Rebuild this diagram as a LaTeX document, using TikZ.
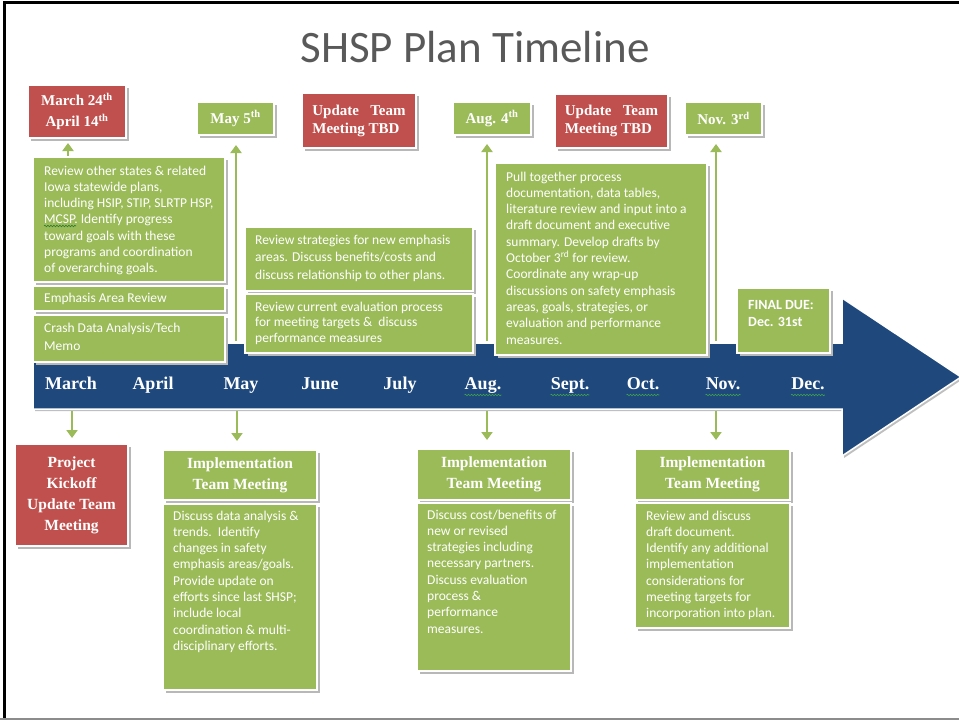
\documentclass[tikz,border=0pt]{standalone}
\usepackage{fontspec}
\setmainfont{Liberation Serif}
\newfontfamily\bodyfont{Carlito}
\usetikzlibrary{arrows.meta,shadows,calc,decorations.pathmorphing}
\definecolor{rd}{HTML}{C0504D}
\definecolor{gr}{HTML}{9BBB59}
\definecolor{bl}{HTML}{1F497D}
\definecolor{tg}{HTML}{595959}
\definecolor{sq}{HTML}{3FA34D}
\definecolor{sqd}{HTML}{2E7D32}
\begin{document}
\begin{tikzpicture}[x=1pt,y=-1pt,
 box/.style={draw=white,line width=2.4pt,anchor=north west,inner sep=0pt,outer sep=0pt,
   drop shadow={shadow xshift=2.5pt,shadow yshift=-2.5pt,fill=black!28,opacity=1}},
 redbox/.style={box,fill=rd},
 grnbox/.style={box,fill=gr},
 hd/.style={text=white,font=\fontsize{15.5}{21}\selectfont\bfseries,align=center},
 lbl/.style={text=white,font=\fontsize{15}{19}\selectfont\bfseries,align=center},
 body/.style={text=white,font=\bodyfont\fontsize{13.5}{16.3}\selectfont,align=left,anchor=north west,inner sep=0pt},
 month/.style={text=white,font=\fontsize{18}{20}\selectfont\bfseries,inner sep=0pt,anchor=base},
 garrow/.style={draw=gr,line width=2.6pt,-{Triangle[width=11pt,length=8pt]}},
 squig/.style={line width=0.6pt,decorate,decoration={snake,segment length=3pt,amplitude=0.8pt}},
]
\useasboundingbox (0,0) rectangle (959,720);
% frame
\draw[black,line width=3pt] (4.5,720) -- (4.5,2.5) -- (959,2.5);
\draw[black!45,line width=2pt] (0,718.5) -- (959,718.5);
% title
\node[text=tg,font=\bodyfont\fontsize{45}{50}\selectfont] (title) at (475,47) {SHSP Plan Timeline};
% timeline arrow
\path[fill=bl,draw=white,line width=1.5pt,drop shadow={shadow xshift=2pt,shadow yshift=-2pt,fill=black!25,opacity=1}]
  (33,343) -- (842,343) -- (842,298) -- (961,377) -- (842,456) -- (842,409) -- (33,409) -- cycle;
% months
\node[month] (mmar) at (71,389) {March};
\node[month] (mapr) at (153,389) {April};
\node[month] (mmay) at (241,389) {May};
\node[month] (mjun) at (320,389) {June};
\node[month] (mjul) at (400,389) {July};
\node[month] (maug) at (483,389) {Aug.};
\node[month] (msep) at (570,389) {Sept.};
\node[month] (moct) at (643,389) {Oct.};
\node[month] (mnov) at (723,389) {Nov.};
\node[month] (mdec) at (808,389) {Dec.};
\foreach \m in {maug,msep,moct,mnov,mdec}
  \draw[squig,sq] ($(\m.base west)+(0,6)$) -- ($(\m.base east)+(0,6)$);
% top labels
\node[redbox,minimum width=98pt,minimum height=53pt,lbl,font=\fontsize{15}{21}\selectfont\bfseries] (m24) at (28,85) {March 24\textsuperscript{th}\\April 14\textsuperscript{th}};
\node[grnbox,minimum width=77pt,minimum height=33pt,lbl] (may5) at (197,102) {May 5\textsuperscript{th}};
\node[redbox,minimum width=114pt,minimum height=55pt,lbl,align=left,font=\fontsize{15}{18}\selectfont\bfseries] (up1) at (302,93) {Update\ \ \ Team\\Meeting TBD};
\node[grnbox,minimum width=78pt,minimum height=33pt,lbl] (aug4) at (453,102) {Aug. 4\textsuperscript{th}};
\node[redbox,minimum width=113pt,minimum height=54pt,lbl,align=left,font=\fontsize{15}{18}\selectfont\bfseries] (up2) at (555,94) {Update\ \ \ Team\\Meeting TBD};
\node[grnbox,minimum width=77pt,minimum height=33pt,lbl] (nov3) at (685,102) {Nov. 3\textsuperscript{rd}};
% upward connectors
\coordinate (fmar) at (68,156);
\coordinate (fmay) at (236,341);
\coordinate (faug) at (487,341);
\coordinate (fnov) at (716,341);
\draw[garrow,shorten >=5pt] (fmar) -- (fmar |- m24.south);
\draw[garrow,shorten >=10pt] (fmay) -- (fmay |- may5.south);
\draw[garrow,shorten >=9pt] (faug) -- (faug |- aug4.south);
\draw[garrow,shorten >=9pt] (fnov) -- (fnov |- nov3.south);
% left column boxes
\node[grnbox,minimum width=192pt,minimum height=125pt] (lb1) at (33,157) {};
\node[body] (lb1t) at (44,165.5) {Review other states \& related\\Iowa statewide plans,\\including HSIP, STIP, SLRTP HSP,\\MCSP. Identify progress\\toward goals with these\\programs and coordination\\of overarching goals.};
\coordinate (mcspa) at (44,226);
\coordinate (mcspb) at (76,226);
\draw[squig,sqd] (mcspa) -- (mcspb);
\node[grnbox,minimum width=192pt,minimum height=25pt] (lb2) at (33,286) {};
\node[body] (lb2t) at (44,292.5) {Emphasis Area Review};
\node[grnbox,minimum width=192pt,minimum height=47pt] (lb3) at (33,315) {};
\node[body,font=\bodyfont\fontsize{13.5}{18.5}\selectfont] (lb3t) at (44,322.5) {Crash Data Analysis/Tech\\Memo};
% middle boxes
\node[grnbox,minimum width=228pt,minimum height=64pt] (mb1) at (245,227) {};
\node[body,font=\bodyfont\fontsize{13.5}{17.5}\selectfont] (mb1t) at (255,234.5) {Review strategies for new emphasis\\areas. Discuss benefits/costs and\\discuss relationship to other plans.};
\node[grnbox,minimum width=228pt,minimum height=59pt] (mb2) at (245,294) {};
\node[body,font=\bodyfont\fontsize{13.5}{15.5}\selectfont] (mb2t) at (255,301.5) {Review current evaluation process\\for meeting targets \&\ \ discuss\\performance measures};
% pull together box
\node[grnbox,minimum width=212pt,minimum height=192pt] (pb) at (495,163) {};
\node[body] (pbt) at (506,171.5) {Pull together process\\documentation, data tables,\\literature review and input into a\\draft document and executive\\summary. Develop drafts by\\October 3\textsuperscript{rd} for review.\\Coordinate any wrap-up\\discussions on safety emphasis\\areas, goals, strategies, or\\evaluation and performance\\measures.};
% final due
\node[grnbox,minimum width=93pt,minimum height=65pt] (fb) at (737,288) {};
\node[body,font=\bodyfont\fontsize{14}{17}\selectfont\bfseries] (fbt) at (748,300) {FINAL DUE:\\Dec. 31st};
% downward connectors
\coordinate (dmar) at (72,411);
\coordinate (dmay) at (237,411);
\coordinate (daug) at (487,411);
\coordinate (dnov) at (716,411);
% bottom boxes
\node[redbox,minimum width=113pt,minimum height=102pt,hd] (pk) at (15,444) {Project\\Kickoff\\Update Team\\Meeting};
\node[grnbox,minimum width=154pt,minimum height=50pt,hd] (ib1h) at (163,450) {Implementation\\Team Meeting};
\node[grnbox,minimum width=154pt,minimum height=186pt] (ib1b) at (163,504) {};
\node[body] (ib1t) at (173,510.5) {Discuss data analysis \&\\trends.\ \ Identify\\changes in safety\\emphasis areas/goals.\\Provide update on\\efforts since last SHSP;\\include local\\coordination \& multi-\\disciplinary efforts.};
\node[grnbox,minimum width=154pt,minimum height=51pt,hd] (ib2h) at (417,449) {Implementation\\Team Meeting};
\node[grnbox,minimum width=154pt,minimum height=168pt] (ib2b) at (417,503) {};
\node[body] (ib2t) at (427,509.5) {Discuss cost/benefits of\\new or revised\\strategies including\\necessary partners.\\Discuss evaluation\\process \&\\performance\\measures.};
\node[grnbox,minimum width=155pt,minimum height=51pt,hd] (ib3h) at (635,449) {Implementation\\Team Meeting};
\node[grnbox,minimum width=155pt,minimum height=125pt] (ib3b) at (635,503) {};
\node[body] (ib3t) at (646,510.5) {Review and discuss\\draft document.\\Identify any additional\\implementation\\considerations for\\meeting targets for\\incorporation into plan.};
\draw[garrow,shorten >=6pt] (dmar) -- (dmar |- pk.north);
\draw[garrow,shorten >=9pt] (dmay) -- (dmay |- ib1h.north);
\draw[garrow,shorten >=9pt] (daug) -- (daug |- ib2h.north);
\draw[garrow,shorten >=9pt] (dnov) -- (dnov |- ib3h.north);
\end{tikzpicture}
\end{document}
